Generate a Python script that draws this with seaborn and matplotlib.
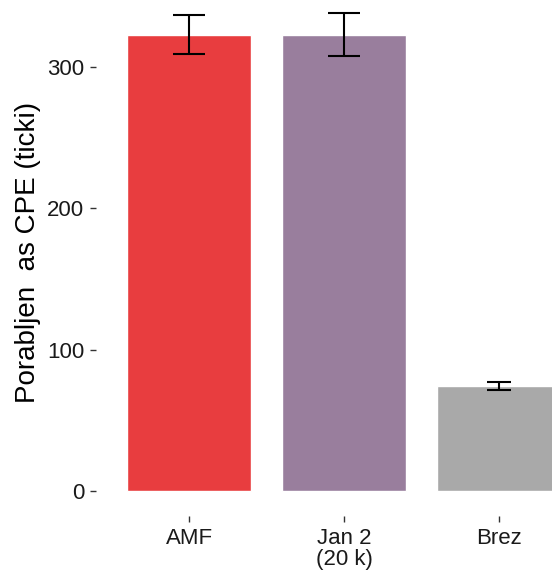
import numpy as np
import pandas as pd
import seaborn as sns
import matplotlib.pyplot as plt

# podatki
skupine = ["AMF", "Jan 2\n(20 k)", "Brez"]
cas = [323, 323, 74.5]
spodnja = [309, 308, 71.5]
zgornja = [337, 338, 77]
barve = ["#E83D3F", "#997E9D", "#A9A9A9"]

sns.set_theme(style="white")
plt.rcParams['font.family'] = ['Liberation Sans', 'DejaVu Sans']

df = pd.DataFrame({"skupina": skupine, "cas": cas})

fig = plt.figure(figsize=(5.52, 5.73), dpi=100)
ax = fig.add_axes([0.174, 0.0995, 0.8986, 0.9215])

sns.barplot(data=df, x="skupina", y="cas", hue="skupina", palette=barve,
            width=0.8, saturation=1, legend=False, ax=ax)

caps = [11.5, 11.5, 8.5]
for i, (v, lo, hi) in enumerate(zip(cas, spodnja, zgornja)):
    ax.errorbar(i, v, yerr=[[v - lo], [hi - v]], fmt="none", ecolor="black",
                elinewidth=1.5, capsize=caps[i], capthick=1.5)

ax.set_xlim(-0.6, 2.6)
ax.set_ylim(-17.7, 356)
ax.set_yticks([0, 100, 200, 300])
for s in ax.spines.values():
    s.set_visible(False)

ax.tick_params(axis="both", which="both", direction="out", length=4.5,
               width=1, color="#333333", labelsize=16, labelcolor="#1a1a1a",
               left=True, bottom=True)
ax.tick_params(axis="x", pad=4.5)
ax.tick_params(axis="y", pad=4)
for t in ax.get_xticklabels():
    t.set_linespacing(1.0)
ax.set_xlabel("")
ax.set_ylabel("Porabljen  as CPE (ticki)", fontsize=20, color="black", labelpad=4)

fig.savefig("out.png", dpi=100)
